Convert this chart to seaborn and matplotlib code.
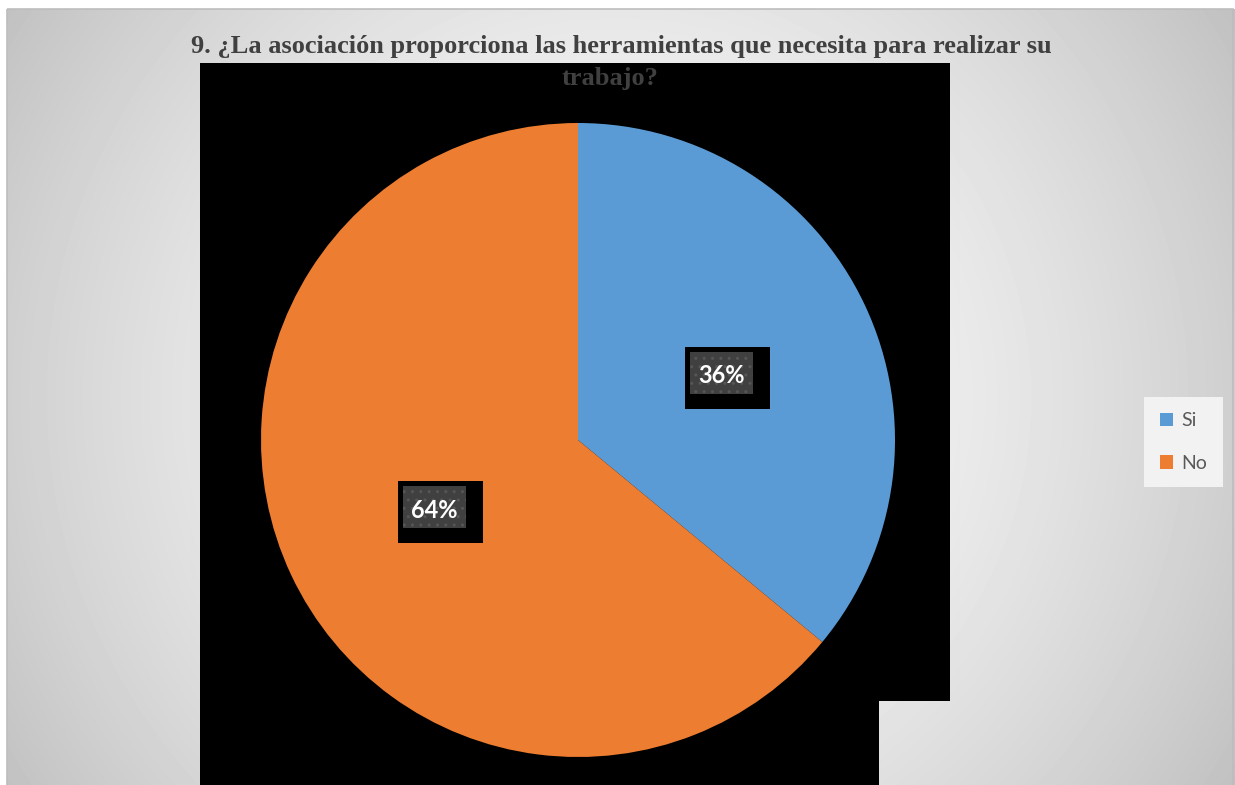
import numpy as np
import matplotlib
matplotlib.use("Agg")
import matplotlib.pyplot as plt
from matplotlib.patches import Rectangle, Patch
import seaborn as sns

# Survey answers and their shares (%)
categories = ["Si", "No"]
shares = [36, 64]
title_lines = [
    "9. ¿La asociación proporciona las herramientas que necesita para realizar su",
    "trabajo?",
]

sns.set_theme(style="white")
plt.rcParams["font.family"] = ["Lato", "DejaVu Sans"]
palette = sns.color_palette(["#5B9BD5", "#ED7D31"])

W, H = 1235, 785
fig = plt.figure(figsize=(W / 100, H / 100), dpi=100)
fig.patch.set_facecolor("white")

# Chart area with a soft radial shading, in pixel coordinates
bg = fig.add_axes([0, 0, 1, 1])
bg.axis("off")
x0, y0 = 7, 9
yy, xx = np.mgrid[y0:H, x0:W]
r = np.hypot(xx - 617, yy - 397) / np.hypot(617, 397)
shade = np.clip((250 - 58 * r ** 1.7) / 255, 0, 1)
bg.imshow(shade, cmap="gray", vmin=0, vmax=1, extent=(x0, W, H, y0),
          origin="upper", aspect="auto", interpolation="bilinear")
bg.add_patch(Rectangle((x0, y0), W - x0 - 2, H - y0 + 5, fill=False,
                       edgecolor="#bdbdbd", lw=1.2))
bg.add_patch(Rectangle((200, 63), 750, 638, facecolor="black", lw=0))
bg.add_patch(Rectangle((200, 700), 679, 86, facecolor="black", lw=0))
bg.set_xlim(0, W)
bg.set_ylim(H, 0)

# Pie
R = 317
cx, cy = 578, 440
ax = fig.add_axes([(cx - R) / W, (H - cy - R) / H, 2 * R / W, 2 * R / H])
wedges, _, autotexts = ax.pie(
    shares, colors=palette, startangle=90, counterclock=False,
    autopct=lambda p: f"{p:.0f}%", pctdistance=0.5,
    wedgeprops=dict(linewidth=0),
    textprops=dict(color="white", fontsize=17, fontweight="bold",
                   family=["Lato", "DejaVu Sans"]),
)
ax.set_xlim(-1, 1)
ax.set_ylim(-1, 1)
ax.axis("off")

px = 1 / R
for t in autotexts:
    tx, ty = t.get_position()
    # outer dark plate
    ow, oh = 85 * px, 62 * px
    ocx, ocy = tx + 6 * px, ty - 5 * px
    ax.add_patch(Rectangle((ocx - ow / 2, ocy - oh / 2), ow, oh,
                           facecolor="black", lw=0, zorder=3))
    # dotted label box
    iw, ih = 63 * px, 42 * px
    ax.add_patch(Rectangle((tx - iw / 2, ty - ih / 2), iw, ih,
                           facecolor="#404040", edgecolor="#565656",
                           hatch="..", lw=0, zorder=4))
    t.set_position((tx, ty - 3 * px))
    t.set_zorder(5)

# Title
fig.text(621 / W, 1 - 47 / H, title_lines[0], ha="center", va="center",
         family="Liberation Serif", fontweight="bold", fontsize=19,
         color="#404040", zorder=10)
fig.text(610 / W, 1 - 79 / H, title_lines[1], ha="center", va="center",
         family="Liberation Serif", fontweight="bold", fontsize=19,
         color="#404040", zorder=10)

# Legend
handles = [Patch(facecolor=c, edgecolor="none", label=l)
           for c, l in zip(palette, categories)]
leg = fig.legend(handles=handles, loc="center",
                 bbox_to_anchor=(1183.5 / W, 1 - 442 / H),
                 frameon=True, facecolor="#f2f2f2", edgecolor="none",
                 fancybox=False, framealpha=1, fontsize=14,
                 handlelength=0.7, handleheight=0.7, labelspacing=1.3,
                 borderpad=0.8, borderaxespad=0, handletextpad=0.4,
                 labelcolor="#595959")

fig.savefig("out.png", dpi=100)
